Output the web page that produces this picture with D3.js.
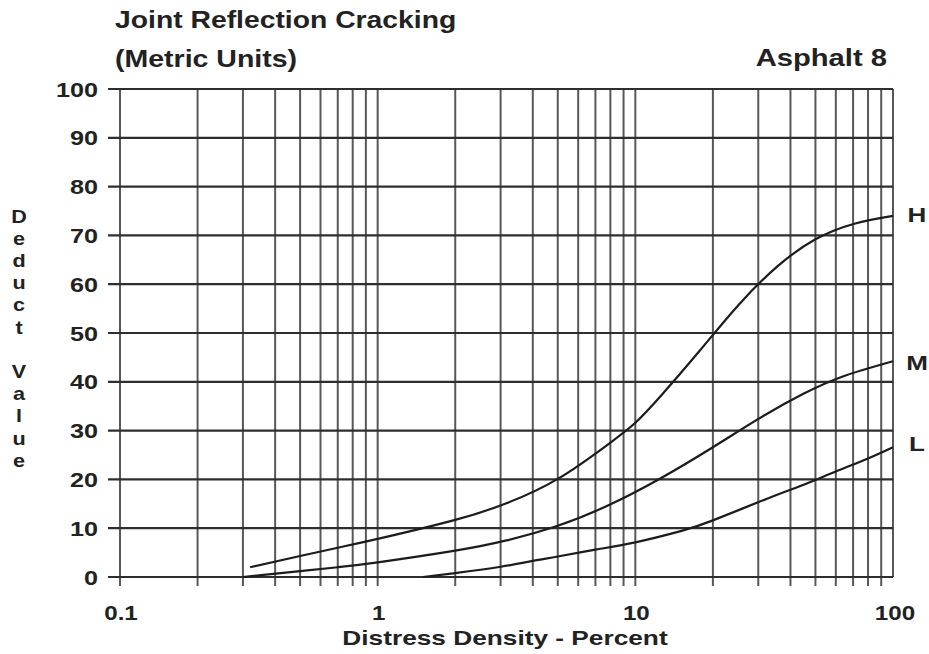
<!DOCTYPE html>
<html>
<head>
<meta charset="utf-8">
<script src="https://cdn.jsdelivr.net/npm/d3@7"></script>
<style>
  html, body { margin: 0; padding: 0; background: #fff; }
  svg text { font-family: "Liberation Sans", Arial, Helvetica, sans-serif; font-weight: bold; fill: #222; }
</style>
</head>
<body>
<svg id="chart" width="929" height="654"></svg>
<script>
// Distress density (percent) tick labels on the log axis
const xTickValues = [0.1, 1, 10, 100];
// Deduct value tick labels
const yTickValues = [0, 10, 20, 30, 40, 50, 60, 70, 80, 90, 100];

// Deduct curves by severity level: [density %, deduct value]
const highSeverity = [
  [0.32, 2], [0.5, 4.3], [0.7, 6], [1, 7.8], [2, 11.7], [3.16, 15.1],
  [5, 20.1], [7.94, 27.4], [10, 31.6], [12.6, 37.2], [17.8, 46.4],
  [25.1, 55.7], [35.5, 63.6], [50, 69.2], [70.8, 72.4], [100, 74]
];
const mediumSeverity = [
  [0.3, 0], [0.5, 1.2], [0.7, 2], [1, 3], [2, 5.4], [3.16, 7.5], [5, 10.5],
  [7.94, 14.8], [12.6, 20.3], [20, 26.6], [31.6, 33.1], [44.7, 37.5],
  [63.1, 41], [100, 44.2]
];
const lowSeverity = [
  [1.5, 0], [2, 0.8], [3, 2.1], [4, 3.3], [5, 4.2], [7, 5.6], [10, 7.1],
  [15, 9.4], [20, 11.6], [33, 16.2], [45, 18.9], [58, 21.3], [80, 24.3],
  [100, 26.6]
];
const severityLabels = ["H", "M", "L"];

const svg = d3.select("#chart");

const x = d3.scaleLog().domain([0.1, 100]).range([120, 893]);
const y = d3.scaleLinear().domain([0, 100]).range([577, 89]);

const gridColor = "#2e2e2e";
// The lettering on this sheet is set wide
const stretch = 1.24;

function label(parent, tx, ty, size, anchor, str, sx = stretch) {
  return parent.append("text")
    .attr("transform", `translate(${tx},${ty}) scale(${sx},1)`)
    .attr("text-anchor", anchor)
    .style("font-size", size + "px")
    .text(str);
}

// Vertical grid: every 1-9 multiple within each decade
const minorX = [];
[0.1, 1, 10].forEach(d => { for (let k = 1; k <= 9; k++) minorX.push(+(d * k).toPrecision(3)); });
minorX.push(100);

svg.append("g").selectAll("line")
  .data(minorX)
  .join("line")
  .attr("x1", d => x(d)).attr("x2", d => x(d))
  .attr("y1", y(100))
  .attr("y2", d => d === 100 ? y(0) : y(0) + 9)
  .attr("stroke", gridColor)
  .attr("stroke-opacity", 0.8)
  .attr("stroke-width", 2);

// Horizontal grid with small ticks to the left of the axis
svg.append("g").selectAll("line")
  .data(yTickValues)
  .join("line")
  .attr("x1", x(0.1) - 12).attr("x2", x(100))
  .attr("y1", d => y(d)).attr("y2", d => y(d))
  .attr("stroke", gridColor)
  .attr("stroke-width", 2.2);

// Y axis tick labels
const yLab = svg.append("g");
yTickValues.forEach(d => label(yLab, 98, y(d) + 7.5, 21, "end", d, 1.2));

// X axis tick labels
const xLab = svg.append("g");
xTickValues.forEach(d => label(xLab, x(d) + (d === 100 ? 2 : 1), 620, 21, "middle", d3.format("~g")(d), 1.15));

// Severity curves
const line = d3.line()
  .x(d => x(d[0]))
  .y(d => y(d[1]))
  .curve(d3.curveNatural);

const series = [highSeverity, mediumSeverity, lowSeverity];
svg.append("g").selectAll("path")
  .data(series)
  .join("path")
  .attr("d", line)
  .attr("fill", "none")
  .attr("stroke", "#1c1c1c")
  .attr("stroke-width", 2.2);

// Severity labels at the right end of each curve
const labelY = [214, 362, 443];
const sevLab = svg.append("g");
severityLabels.forEach((d, i) => label(sevLab, 917, labelY[i] + 7.5, 21, "middle", d));

// Titles
label(svg, 115, 28, 24, "start", "Joint Reflection Cracking", 1.18);
label(svg, 115, 67, 23, "start", "(Metric Units)");
label(svg, 887, 66, 23, "end", "Asphalt 8", 1.27);

// X axis title
label(svg, 505, 645, 21, "middle", "Distress Density - Percent", 1.25);

// Y axis title, letters stacked vertically
const yTitle = "Deduct Value".split("");
const yt = svg.append("g");
yTitle.forEach((c, i) => label(yt, 19, 216 + i * 22.2 + 6.5, 18, "middle", c, 1.2));
</script>
</body>
</html>
